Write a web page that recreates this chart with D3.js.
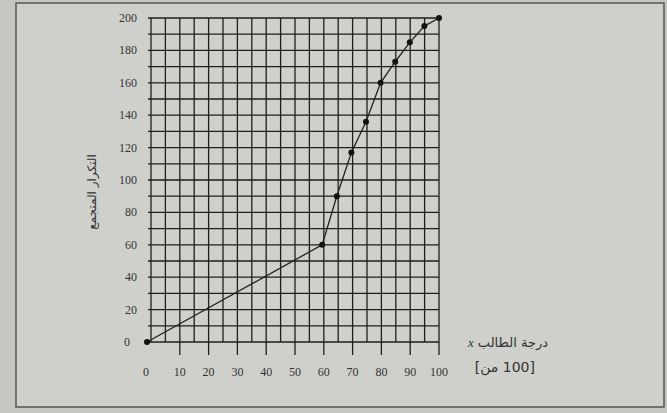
<!DOCTYPE html>
<html>
<head>
<meta charset="utf-8">
<script src="https://cdn.jsdelivr.net/npm/d3@7.9.0/dist/d3.min.js"></script>
<style>
  body { margin: 0; background: #c6c7c3; }
  svg { display: block; }
</style>
</head>
<body>
<svg id="chart" width="667" height="413"></svg>
<script>
// cumulative frequency vs. student grade
let grades = [0, 60, 65, 70, 75, 80, 85, 90, 95, 100];
let cumFreq = [0, 60, 90, 117, 136, 160, 173, 185, 195, 200];
let xTicks = [0, 10, 20, 30, 40, 50, 60, 70, 80, 90, 100];
let yTicks = [0, 20, 40, 60, 80, 100, 120, 140, 160, 180, 200];

let svg = d3.select('#chart');

// page frame
svg.append('rect')
    .attr('x', 16).attr('y', 3)
    .attr('width', 648).attr('height', 404)
    .attr('fill', '#cfd0cc')
    .attr('stroke', '#555')
    .attr('stroke-width', 1.5);

let x = d3.scaleLinear().domain([0, 100]).range([151, 439]);
let y = d3.scaleLinear().domain([0, 200]).range([342, 18]);

let grid = svg.append('g').attr('stroke', '#1e1e1e').attr('stroke-width', 1.3);

// vertical grid lines every 5, with ticks under the tens
grid.selectAll('line.v')
    .data(d3.range(0, 101, 5))
    .enter()
    .append('line')
    .attr('x1', d => x(d)).attr('x2', d => x(d))
    .attr('y1', y(200))
    .attr('y2', d => d % 10 === 0 && d > 0 ? y(0) + 13 : y(0));

// horizontal grid lines every 10
grid.selectAll('line.h')
    .data(d3.range(0, 201, 10))
    .enter()
    .append('line')
    .attr('x1', x(0) - 3).attr('x2', x(100))
    .attr('y1', d => y(d)).attr('y2', d => y(d));

// tick labels
svg.append('g')
    .selectAll('text')
    .data(xTicks)
    .enter()
    .append('text')
    .attr('x', d => x(d) - (d === 0 ? 5 : 0))
    .attr('y', 376)
    .attr('text-anchor', 'middle')
    .attr('font-family', 'Liberation Serif, serif')
    .attr('font-size', 12)
    .attr('fill', '#333')
    .text(d => d);

svg.append('g')
    .selectAll('text')
    .data(yTicks)
    .enter()
    .append('text')
    .attr('x', d => d === 0 ? 130 : 137)
    .attr('y', d => y(d) + 4)
    .attr('text-anchor', 'end')
    .attr('font-family', 'Liberation Serif, serif')
    .attr('font-size', 12)
    .attr('fill', '#333')
    .text(d => d);

// the curve
let points = grades.map((g, i) => [g, cumFreq[i]]);
let line = d3.line().x(d => x(d[0]) - 4 * (1 - d[0] / 100)).y(d => y(d[1]));

svg.append('path')
    .attr('d', line(points))
    .attr('fill', 'none')
    .attr('stroke', '#222')
    .attr('stroke-width', 1.3);

svg.append('g')
    .selectAll('circle')
    .data(points)
    .enter()
    .append('circle')
    .attr('cx', d => x(d[0]) - 4 * (1 - d[0] / 100))
    .attr('cy', d => y(d[1]))
    .attr('r', 3)
    .attr('fill', '#111');

// axis titles
svg.append('text')
    .attr('transform', 'translate(96,192) rotate(-90)')
    .attr('text-anchor', 'middle')
    .attr('font-family', 'DejaVu Sans, sans-serif')
    .attr('font-size', 12)
    .attr('fill', '#333')
    .text('التكرار المتجمع');

svg.append('text')
    .attr('x', 548).attr('y', 347)
    .attr('text-anchor', 'start')
    .attr('direction', 'rtl')
    .attr('font-family', 'DejaVu Sans, sans-serif')
    .attr('font-size', 13)
    .attr('fill', '#333')
    .html('درجة الطالب <tspan font-family="Liberation Serif, serif" font-style="italic">x</tspan>');

svg.append('text')
    .attr('x', 535).attr('y', 372)
    .attr('text-anchor', 'end')
    .attr('direction', 'ltr')
    .attr('font-family', 'DejaVu Sans, sans-serif')
    .attr('font-size', 14)
    .attr('fill', '#333')
    .text('[من\u200E 100]');
</script>
</body>
</html>
